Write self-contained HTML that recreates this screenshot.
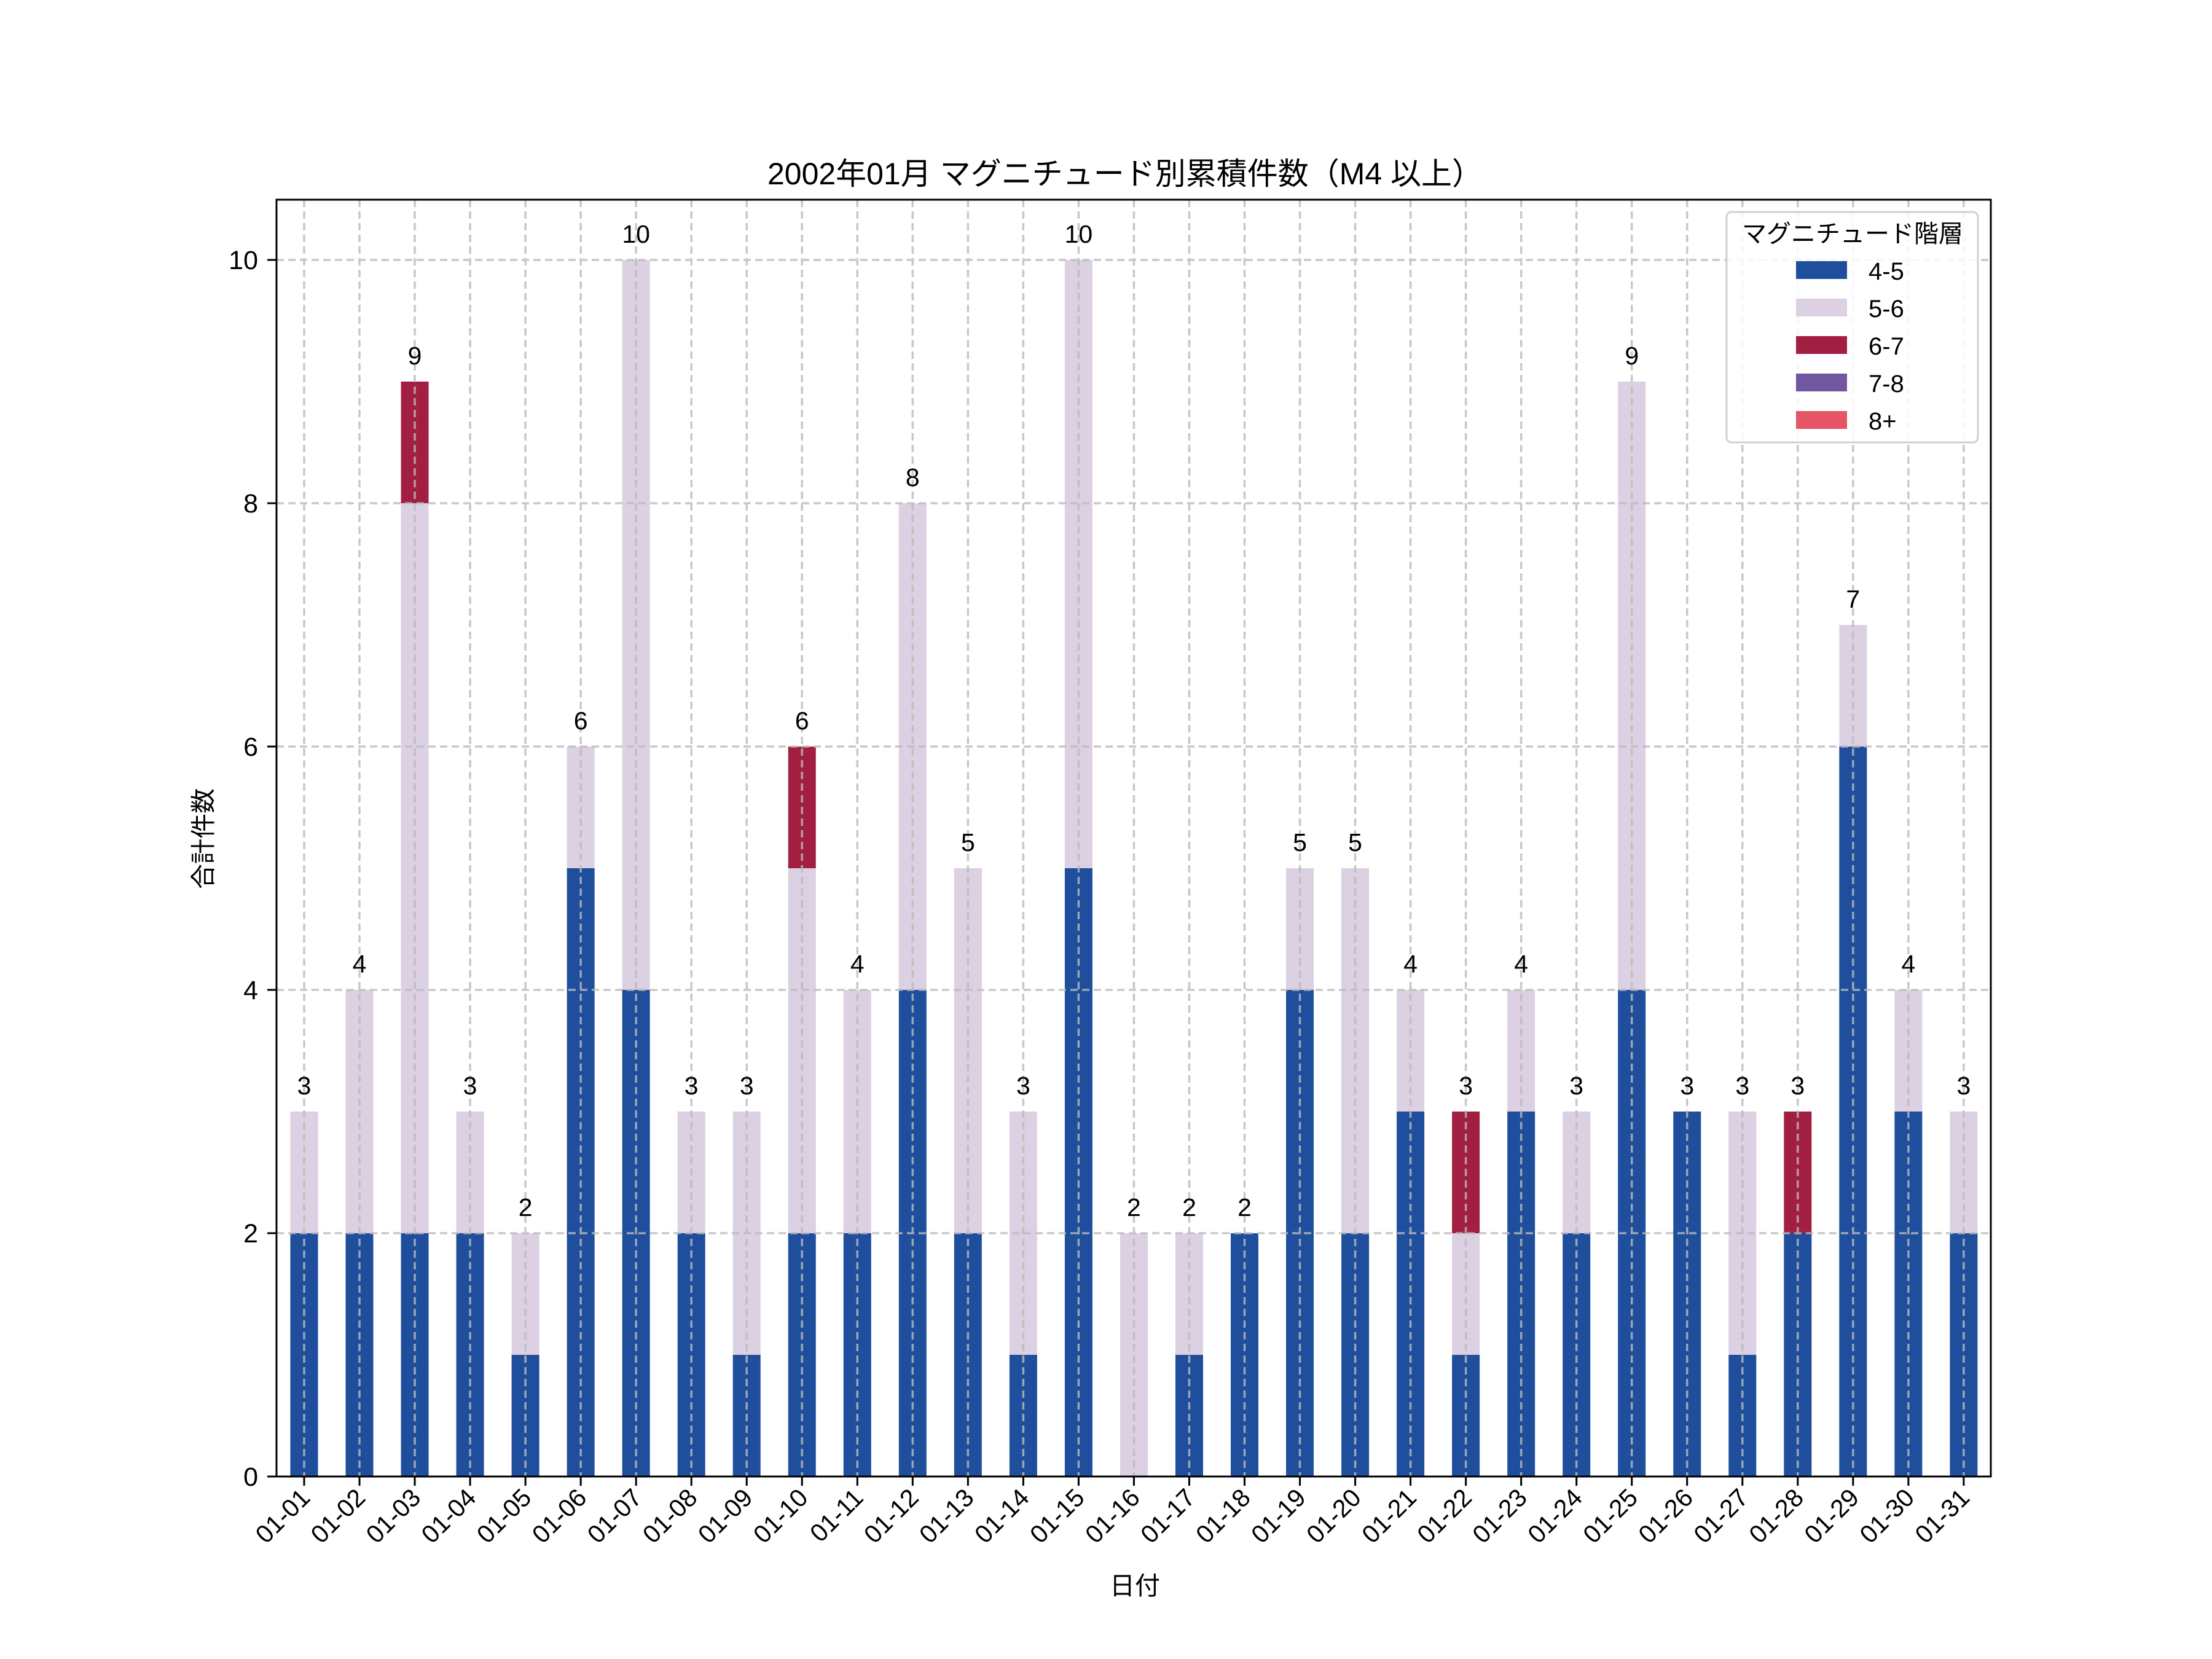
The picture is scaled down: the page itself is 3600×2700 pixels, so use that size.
<!DOCTYPE html>
<html><head><meta charset="utf-8"><style>
html,body{margin:0;padding:0;background:#fff}
svg{display:block}
text{font-family:"Liberation Sans","Noto Sans CJK JP",sans-serif;fill:#000}
</style></head><body>
<svg id="s" width="3600" height="2700" viewBox="0 0 3600 2700" xmlns="http://www.w3.org/2000/svg">
<rect width="3600" height="2700" fill="#fff"/>
<g id="bars"></g>
<g id="grid" stroke="#bbbbbb" stroke-width="3.5" stroke-dasharray="12,7" opacity="0.8"></g>
<rect x="450" y="325" width="2790" height="2078" fill="none" stroke="#000" stroke-width="3"/>
<g id="lab"></g>
<text x="1831" y="300" font-size="50" text-anchor="middle">2002年01月 マグニチュード別累積件数（M4 以上）</text>
<text x="1847" y="2595" font-size="41" text-anchor="middle">日付</text>
<text transform="translate(345,1365) rotate(-90)" font-size="41" text-anchor="middle">合計件数</text>
<g>
<rect x="2810" y="345" width="409" height="375" fill="#fff" fill-opacity="0.85" stroke="#d0d0d0" stroke-width="3" rx="8"/>
<text x="3015" y="394" font-size="40" text-anchor="middle">マグニチュード階層</text>
<rect x="2923" y="425" width="83" height="29" fill="#1f4e9c"/><text x="3041" y="455" font-size="40">4-5</text>
<rect x="2923" y="486" width="83" height="29" fill="#dcd0e3"/><text x="3041" y="516" font-size="40">5-6</text>
<rect x="2923" y="547" width="83" height="29" fill="#a21f42"/><text x="3041" y="577" font-size="40">6-7</text>
<rect x="2923" y="608" width="83" height="29" fill="#7157a0"/><text x="3041" y="638" font-size="40">7-8</text>
<rect x="2923" y="669" width="83" height="29" fill="#e65566"/><text x="3041" y="699" font-size="40">8+</text>
</g>
</svg>
<script>
const d=[[2,1],[2,2],[2,6,1],[2,1],[1,1],[5,1],[4,6],[2,1],[1,2],[2,3,1],[2,2],[4,4],[2,3],[1,2],[5,5],[0,2],[1,1],[2,0],[4,1],[2,3],[3,1],[1,1,1],[3,1],[2,1],[4,5],[3,0],[1,2],[2,0,1],[6,1],[3,1],[2,1]];
const cols=["#1f4e9c","#dcd0e3","#a21f42"];
const ns="http://www.w3.org/2000/svg";
function el(p,t,a,txt){const e=document.createElementNS(ns,t);for(const k in a)e.setAttribute(k,a[k]);if(txt!==undefined)e.textContent=txt;document.getElementById(p).appendChild(e);return e;}
const y0=2403,u=198,x0=495,sp=90.03,w=45;
d.forEach((v,i)=>{const cx=x0+i*sp;let b=0;v.forEach((n,j)=>{if(n>0)el("bars","rect",{x:cx-w/2,y:y0-(b+n)*u,width:w,height:n*u,fill:cols[j]});b+=n;});
el("lab","text",{x:cx,y:y0-b*u-28,"font-size":41,"text-anchor":"middle"},String(b));
el("grid","line",{x1:cx,x2:cx,y1:325,y2:2403});
el("lab","line",{x1:cx,x2:cx,y1:2403,y2:2418,stroke:"#000","stroke-width":3});
const dd=String(i+1).padStart(2,"0");
el("lab","text",{transform:`translate(${cx+12},${2440}) rotate(-45)`,"font-size":41,"text-anchor":"end"},"01-"+dd);});
for(let k=0;k<=10;k+=2){const y=y0-k*u;if(k>0)el("grid","line",{x1:450,x2:3240,y1:y,y2:y});
el("lab","line",{x1:435,x2:450,y1:y,y2:y,stroke:"#000","stroke-width":3});
el("lab","text",{x:420,y:y+15,"font-size":43,"text-anchor":"end"},String(k));}
</script>
</body></html>
